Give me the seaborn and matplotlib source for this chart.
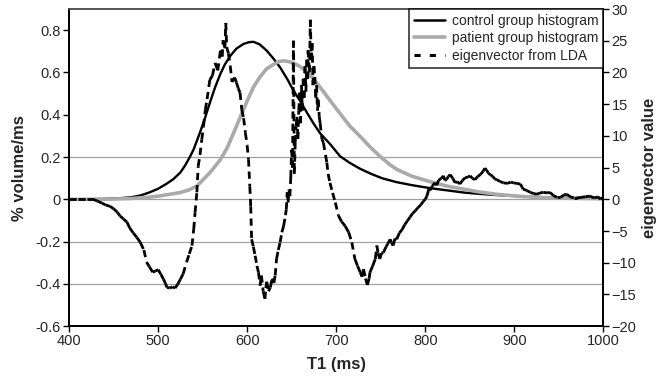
import numpy as np
import seaborn as sns
import matplotlib.pyplot as plt
from matplotlib.collections import LineCollection
from matplotlib.lines import Line2D

# control group histogram (% volume/ms)
ctrl_ms = [400, 420, 440, 460, 470, 480, 490, 500, 510, 517, 525, 530, 536, 540, 547, 552, 558, 564,
           570, 575, 581, 588, 596, 602, 607, 614, 622, 630, 637, 645, 652, 659.5, 667, 675, 682, 693,
           704.5, 715, 727, 740, 752, 768, 785, 805, 825, 843, 860, 880, 900, 918, 940, 960, 980, 1000]
ctrl_vol = [0, 0, 0.002, 0.006, 0.01, 0.018, 0.032, 0.05, 0.075, 0.095, 0.127, 0.158, 0.203, 0.237,
            0.316, 0.376, 0.455, 0.53, 0.594, 0.638, 0.678, 0.713, 0.735, 0.743, 0.745, 0.733, 0.703,
            0.663, 0.624, 0.569, 0.515, 0.465, 0.411, 0.356, 0.312, 0.262, 0.203, 0.173, 0.144, 0.119,
            0.099, 0.081, 0.067, 0.053, 0.042, 0.032, 0.026, 0.02, 0.016, 0.012, 0.009, 0.007, 0.005, 0.004]

# patient group histogram (% volume/ms)
pat_ms = [400, 440, 470, 490, 502, 515, 525, 535, 543.5, 550, 560, 570, 578, 584.6, 592, 600, 607,
          614.6, 622, 629.6, 636, 641, 648, 656, 660, 666, 674, 682, 693, 704.5, 715, 727, 738, 749,
          760, 768, 785, 805, 825, 843, 860, 880, 900, 920, 940, 960, 980, 1000]
pat_vol = [0, 0, 0.004, 0.01, 0.016, 0.025, 0.032, 0.045, 0.063, 0.09, 0.135, 0.188, 0.247, 0.312,
           0.386, 0.465, 0.53, 0.58, 0.618, 0.638, 0.652, 0.655, 0.65, 0.636, 0.626, 0.606, 0.572,
           0.53, 0.468, 0.405, 0.348, 0.297, 0.248, 0.204, 0.165, 0.142, 0.109, 0.084, 0.062, 0.048,
           0.035, 0.024, 0.016, 0.01, 0.007, 0.005, 0.004, 0.003]

# eigenvector from LDA (right axis)
eig_ms = [400, 410, 420, 427, 432, 437, 441, 446, 450, 454, 457, 461, 465, 468, 472, 476, 480, 484,
          487, 490, 494, 497, 500, 503, 506, 508, 510, 513, 516, 519, 522, 525, 528, 532, 535, 538,
          540, 541.5, 543.5, 545, 547, 549, 551, 553, 555, 558, 561, 564, 567, 570, 572, 573, 575,
          576, 577, 579, 581, 583, 586, 588, 590, 592, 594, 596, 598, 600, 601.5, 603, 604, 605, 607,
          609, 611, 612.7, 614.6, 616, 618, 620, 621, 622, 624, 626, 628, 630, 631.5, 633, 635, 637,
          639, 641, 643, 644, 645, 646, 647, 648, 649, 650, 651, 652, 653, 654, 655, 656, 657, 658,
          659, 660, 661, 662, 663, 664, 665, 666, 667, 668, 668.5, 670, 671, 672, 673, 674, 675, 676,
          677, 678, 679, 680, 681, 682, 684, 685.7, 688, 689.5, 691, 693, 696, 699, 702.6, 706, 710,
          714, 717.6, 721, 724, 727, 729, 730.7, 733, 735, 737, 738, 741, 744, 745.7, 747, 749, 751,
          753, 756, 758, 760.7, 762, 764, 766, 768, 771, 774, 777, 780, 783, 786, 789, 792, 795, 798,
          800, 802, 804, 806, 808, 811, 813, 815, 818, 820.6, 822, 824, 826, 828, 831, 833.7, 836,
          839, 842, 845, 848, 850.6, 853, 856, 859, 862, 865, 867, 869, 871, 873, 876, 878, 880.5,
          884, 888, 892, 896, 899, 903, 907, 910, 914, 918, 922, 925.5, 929, 933, 937, 940, 944, 948,
          952, 956, 959, 963, 967, 970, 975, 980, 985, 990, 994, 997, 1000]
eig_val = [0, 0, 0, 0, -0.3, -0.6, -0.9, -1.1, -1.5, -2.0, -2.6, -3.1, -3.6, -4.5, -5.3, -6.0, -6.8,
           -8.0, -9.9, -10.6, -11.5, -11.3, -11.1, -11.8, -12.6, -13.2, -13.9, -14.0, -13.8, -14.0,
           -13.4, -12.6, -11.8, -9.9, -8.6, -7.3, -4.7, -2.1, 1.1, 5.2, 7.0, 9.4, 11.5, 14.1, 15.8,
           18.8, 19.5, 21.5, 20.3, 23.5, 22.5, 25.1, 23.8, 27.8, 24.0, 23.0, 21.0, 18.5, 19.2, 18.4,
           17.5, 16.8, 14.1, 12.8, 10.5, 8.5, 6.3, 2.0, -1.1, -6.3, -7.5, -8.9, -10.5, -11.5, -13.6,
           -12.0, -14.5, -15.7, -14.0, -13.0, -14.5, -13.9, -12.5, -13.2, -12.0, -9.4, -8.0, -6.8,
           -5.2, -4.2, -2.5, -1.6, 1.1, -0.5, 1.5, 0.5, 3.5, 7.8, 5.0, 25.0, 4.0, 9.0, 11.5, 13.0,
           9.5, 14.0, 16.8, 12.0, 18.0, 14.0, 19.0, 16.0, 21.0, 17.0, 22.0, 19.0, 23.5, 20.0, 28.3,
           22.0, 24.6, 18.0, 21.0, 19.3, 16.0, 18.0, 14.0, 15.7, 13.0, 12.0, 9.5, 8.9, 7.0, 5.8, 4.0,
           2.6, 1.0, -0.5, -2.6, -3.5, -4.2, -5.2, -6.8, -9.4, -10.5, -11.5, -12.2, -11.0, -12.5,
           -13.5, -12.5, -11.5, -10.5, -9.4, -7.3, -8.5, -9.4, -8.5, -8.4, -7.5, -7.0, -6.3, -6.8,
           -7.3, -6.2, -6.3, -5.3, -4.8, -4.0, -3.4, -2.8, -2.2, -1.8, -1.3, -0.9, -0.3, 0.0, 0.5,
           1.6, 1.6, 2.1, 2.6, 2.2, 3.0, 3.3, 3.7, 3.0, 3.1, 3.6, 3.9, 3.3, 2.6, 2.8, 2.4, 3.0, 3.4,
           3.5, 3.7, 3.3, 3.1, 3.6, 3.9, 4.4, 4.9, 4.6, 4.1, 3.9, 3.6, 3.2, 3.1, 2.8, 2.6, 2.5, 2.7,
           2.6, 2.5, 2.4, 1.6, 1.4, 1.1, 0.9, 0.8, 1.0, 1.1, 1.0, 1.1, 0.6, 0.3, 0.3, 0.7, 0.8, 0.4,
           0.2, 0.2, 0.3, 0.4, 0.5, 0.2, 0.4, 0.0, 0.3]

x_ticks = [400, 500, 600, 700, 800, 900, 1000]
left_ticks = [-0.6, -0.4, -0.2, 0, 0.2, 0.4, 0.6, 0.8]
right_ticks = [-20, -15, -10, -5, 0, 5, 10, 15, 20, 25, 30]
grid_levels = [-0.4, -0.2, 0, 0.2]

sns.set_theme(style="white")
plt.rcParams['font.family'] = ['Liberation Sans', 'DejaVu Sans']

fig, ax = plt.subplots(figsize=(6.71, 3.92), dpi=100)
fig.subplots_adjust(left=0.103, right=0.899, top=0.977, bottom=0.168)

for g in grid_levels:
    ax.axhline(g, color='#a0a0a0', lw=0.9, zorder=0)

sns.lineplot(x=ctrl_ms, y=ctrl_vol, ax=ax, color='black', lw=1.7, sort=False)
sns.lineplot(x=pat_ms, y=pat_vol, ax=ax, color='#aaaaaa', lw=2.6, sort=False)

ax2 = ax.twinx()
pts = np.column_stack([eig_ms, eig_val])
segs = np.stack([pts[:-1], pts[1:]], axis=1)
# dash pattern restarts on each segment, like the original spreadsheet plot
lc = LineCollection(segs, colors='black', linewidths=2.0, linestyles=[(0, (2.6, 1.8))])
ax2.add_collection(lc)

ax.set_xlim(400, 1000)
ax.set_ylim(-0.6, 0.9)
ax2.set_ylim(-20, 30)
ax.set_xticks(x_ticks)
ax.set_yticks(left_ticks)
ax.set_yticklabels([f"{v:g}" for v in left_ticks])
ax2.set_yticks(right_ticks)

ax.tick_params(left=True, bottom=True, direction='out', length=4, width=1,
               labelsize=10.5, color='black', pad=2)
ax2.tick_params(right=True, direction='out', length=4, width=1,
                labelsize=10.5, color='black', pad=2)

for a in (ax, ax2):
    for s in ('left', 'bottom', 'right'):
        a.spines[s].set_color('black')
        a.spines[s].set_linewidth(1.4)
    a.spines['top'].set_color('#555555')
    a.spines['top'].set_linewidth(1.2)

ax.set_xlabel('T1 (ms)', fontsize=12, fontweight='bold', labelpad=6)
ax.set_ylabel('% volume/ms', fontsize=12, fontweight='bold', labelpad=6)
ax2.set_ylabel('eigenvector value', fontsize=12, fontweight='bold', labelpad=4)

handles = [Line2D([], [], color='black', lw=1.8),
           Line2D([], [], color='#aaaaaa', lw=2.6),
           Line2D([], [], color='black', lw=2.2, linestyle=(0, (2, 3)))]
labels = ['control group histogram', 'patient group histogram', 'eigenvector from LDA']
leg = ax2.legend(handles, labels, loc='upper right', borderaxespad=0, frameon=True,
                 fancybox=False, edgecolor='black', fontsize=10, handlelength=2.2,
                 labelspacing=0.25, borderpad=0.35, handletextpad=0.5)
leg.get_frame().set_linewidth(1.2)

fig.savefig('out.png', dpi=100)
